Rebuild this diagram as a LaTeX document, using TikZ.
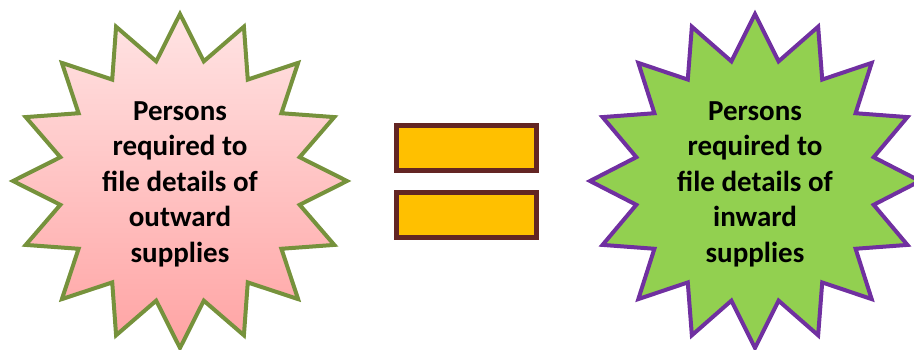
\documentclass[tikz,border=0pt]{standalone}
\usepackage{fontspec}
\setmainfont{Carlito}
\definecolor{pinktop}{HTML}{FFE4E4}
\definecolor{pinkbot}{HTML}{FFA3A3}
\definecolor{olive}{HTML}{76923C}
\definecolor{lgreen}{HTML}{92D050}
\definecolor{purp}{HTML}{7030A0}
\definecolor{gold}{HTML}{FFC000}
\definecolor{maroon}{HTML}{632523}
\tikzset{
  label/.style={align=center, font=\bfseries\fontsize{29}{35.5}\selectfont, text=black},
  eqbar/.style={draw=maroon, line width=5pt, fill=gold, minimum width=140pt, minimum height=45pt, inner sep=0pt},
}
\begin{document}
\begin{tikzpicture}[x=1pt,y=1pt]
\useasboundingbox (0,0) rectangle (914,349);
% left star
\shadedraw[top color=pinktop, bottom color=pinkbot, draw=olive, line width=4pt, line join=miter]
  plot[samples at={0,...,31}, variable=\k]
  ({180+(mod(\k,2)==0 ? 167 : 122)*cos(90+11.25*\k)}, {168+(mod(\k,2)==0 ? 167 : 122)*sin(90+11.25*\k)}) -- cycle;
\node[label] (left) at (180,165) {Persons\\required to\\file details of\\outward\\supplies};
% right star
\filldraw[fill=lgreen, draw=purp, line width=4pt, line join=miter]
  plot[samples at={0,...,31}, variable=\k]
  ({755+(mod(\k,2)==0 ? 165 : 121)*cos(90+11.25*\k)}, {168+(mod(\k,2)==0 ? 167 : 122)*sin(90+11.25*\k)}) -- cycle;
\node[label] (right) at (755,165) {Persons\\required to\\file details of\\inward\\supplies};
% equals sign
\node[eqbar] (top) at (466.5,201) {};
\node[eqbar] (bot) at (466.5,134) {};
\end{tikzpicture}
\end{document}
